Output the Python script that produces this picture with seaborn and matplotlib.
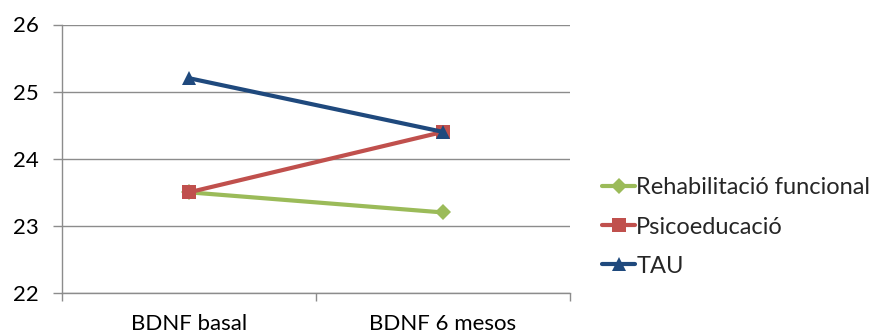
import matplotlib
matplotlib.use("Agg")
import matplotlib.pyplot as plt
import seaborn as sns
import pandas as pd

# BDNF means per treatment group at baseline and after 6 months
moments = ["BDNF basal", "BDNF 6 mesos"]
rehabilitacio = [23.5, 23.2]
psicoeducacio = [23.5, 24.4]
tau = [25.2, 24.4]
groups = ["Rehabilitació funcional", "Psicoeducació", "TAU"]
y_ticks = [22, 23, 24, 25, 26]

colors = {"Rehabilitació funcional": "#9BBB59",
          "Psicoeducació": "#C0504D",
          "TAU": "#1F497D"}
markers = {"Rehabilitació funcional": "D",
           "Psicoeducació": "s",
           "TAU": "^"}
marker_sizes = {"Rehabilitació funcional": 8, "Psicoeducació": 9.5, "TAU": 10.5}

df = pd.DataFrame({
    "moment": moments * 3,
    "pos": [0, 1] * 3,
    "valor": rehabilitacio + psicoeducacio + tau,
    "grup": [g for g in groups for _ in moments],
})

sns.set_theme(style="white")
plt.rcParams["font.family"] = ["Lato", "DejaVu Sans"]

fig = plt.figure(figsize=(8.74, 3.35), dpi=100)
ax = fig.add_axes([62 / 874, 1 - 293 / 335, (570 - 62) / 874, (293 - 24.5) / 335])

for g in groups:
    sub = df[df["grup"] == g]
    sns.lineplot(data=sub, x="pos", y="valor", ax=ax, color=colors[g],
                 linewidth=3.0, marker=markers[g], markersize=marker_sizes[g],
                 markeredgewidth=0, label=g, zorder=3)

ax.set_xlim(-0.5, 1.5)
ax.set_ylim(22, 26)
ax.set_yticks(y_ticks)
ax.set_yticklabels([str(v) for v in y_ticks])
ax.set_xticks([0, 1])
ax.set_xticklabels(moments)
ax.set_xticks([-0.5, 0.5, 1.5], minor=True)
ax.set_xlabel("")
ax.set_ylabel("")

grid_c = "#8C8C8C"
ax.grid(axis="y", color=grid_c, linewidth=1.0)
ax.set_axisbelow(True)
for side in ["top", "right"]:
    ax.spines[side].set_visible(False)
ax.spines["left"].set_color(grid_c)
ax.spines["bottom"].set_color(grid_c)
ax.spines["left"].set_linewidth(1.0)
ax.spines["bottom"].set_linewidth(1.0)

ax.tick_params(axis="y", which="major", left=True, length=6.5, width=1.0,
               color=grid_c, labelsize=16, pad=10, labelcolor="#000000")
ax.tick_params(axis="x", which="major", bottom=False, labelsize=16, pad=9,
               labelcolor="#000000")
ax.tick_params(axis="x", which="minor", bottom=True, length=6, width=1.0,
               color=grid_c)

ax.legend(loc="center left", bbox_to_anchor=(602 / 874, 1 - 227 / 335),
          bbox_transform=fig.transFigure, frameon=False, fontsize=17,
          handlelength=1.4, handletextpad=0.05, labelspacing=0.77,
          borderpad=0, borderaxespad=0)

fig.savefig("out.png", dpi=100)
